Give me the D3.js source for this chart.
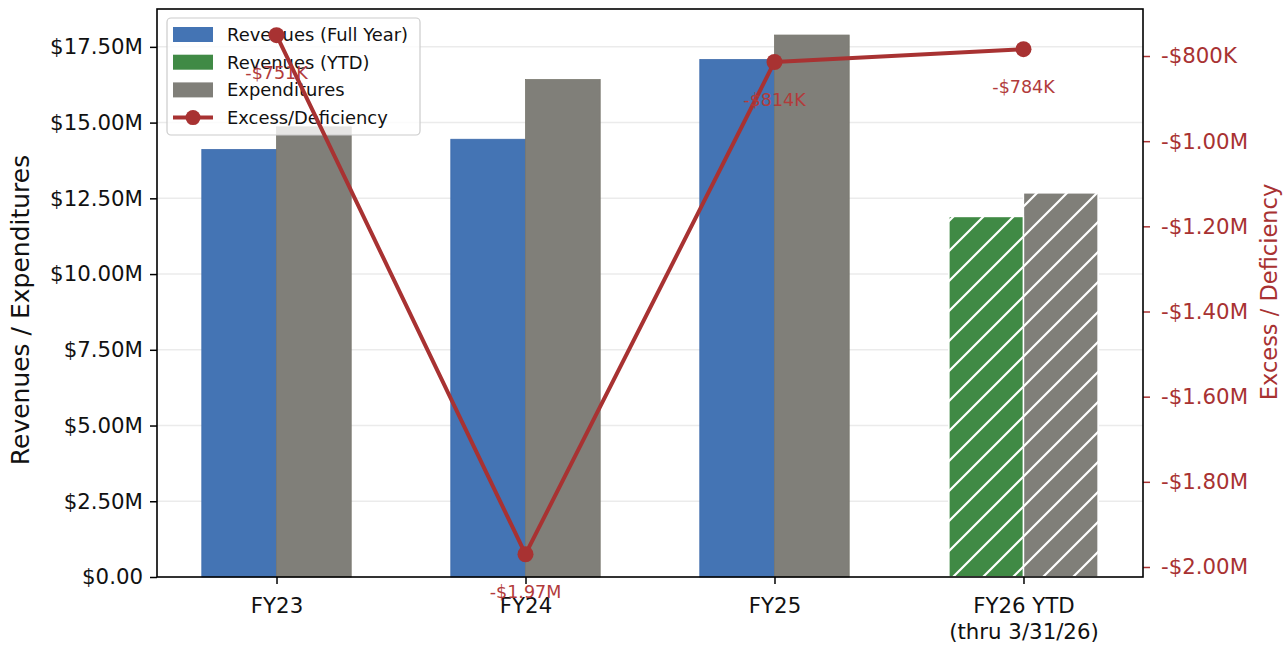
<!DOCTYPE html>
<html>
<head>
<meta charset="utf-8">
<script src="https://cdn.jsdelivr.net/npm/d3@7"></script>
<style>
  html, body { margin: 0; padding: 0; background: #ffffff; }
  svg { display: block; }
  text { font-family: "DejaVu Sans", sans-serif; }
</style>
</head>
<body>
<script>
// Fiscal-year summary: revenues vs expenditures (bars) with excess/deficiency (line)
const categories = ["FY23", "FY24", "FY25", "FY26 YTD\n(thru 3/31/26)"];
const ytdFlags = [false, false, false, true];
const revenues = [14.11, 14.45, 17.08, 11.90];        // $ millions
const expenditures = [14.86, 16.42, 17.89, 12.684];    // $ millions
const excess = [-751, -1970, -814, -784];              // $ thousands
const leftTicks = [0, 2.5, 5, 7.5, 10, 12.5, 15, 17.5];
const rightTicks = [-800, -1000, -1200, -1400, -1600, -1800, -2000];

const W = 1288, H = 647;
const plot = { left: 157, right: 1143, top: 9, bottom: 577 };

const colors = {
  revenue: "#4474b4",
  revenueEdge: "#3d6aab",
  ytd: "#408a45",
  expend: "#807f79",
  line: "#a83232",
  grid: "#ebebeb"
};

const svg = d3.select("body").append("svg").attr("width", W).attr("height", H);

// hatch used for the year-to-date bars
const defs = svg.append("defs");
const hatch = defs.append("pattern")
  .attr("id", "hatch").attr("patternUnits", "userSpaceOnUse")
  .attr("width", 30).attr("height", 30);
hatch.append("path")
  .attr("d", "M-7.5,7.5 L7.5,-7.5 M0,30 L30,0 M22.5,37.5 L37.5,22.5")
  .attr("stroke", "#ffffff").attr("stroke-width", 2.2);

// scales
const x = d3.scaleLinear().domain([-0.48, 3.48]).range([plot.left, plot.right]);
const barW = 0.3;
const y = d3.scaleLinear().domain([0, 18.75]).range([plot.bottom, plot.top]);
const y2 = d3.scaleLinear().domain([-2023.5, -689.6]).range([plot.bottom, plot.top]);

const fmtLeft = v => v === 0 ? "$0.00" : "$" + d3.format(".2f")(v) + "M";
const fmtK = v => {
  const a = Math.abs(v);
  const s = a >= 1000 ? "$" + d3.format(".2f")(a / 1000) + "M" : "$" + d3.format(".0f")(a) + "K";
  return (v < 0 ? "-" : "") + s;
};

// grid lines behind the bars
svg.append("g").selectAll("line").data(leftTicks.filter(t => t > 0)).join("line")
  .attr("x1", plot.left).attr("x2", plot.right)
  .attr("y1", d => y(d)).attr("y2", d => y(d))
  .attr("stroke", colors.grid).attr("stroke-width", 1.5);

// bars
const bars = svg.append("g");
categories.forEach((c, i) => {
  const revFill = ytdFlags[i] ? colors.ytd : colors.revenue;
  // revenue bar
  bars.append("rect")
    .attr("x", x(i - barW)).attr("width", x(barW) - x(0))
    .attr("y", y(revenues[i])).attr("height", y(0) - y(revenues[i]))
    .attr("fill", revFill)
    .attr("stroke", ytdFlags[i] ? "#ffffff" : colors.revenueEdge)
    .attr("stroke-width", ytdFlags[i] ? 1.2 : 0.8);
  // expenditure bar
  bars.append("rect")
    .attr("x", x(i)).attr("width", x(barW) - x(0))
    .attr("y", y(expenditures[i])).attr("height", y(0) - y(expenditures[i]))
    .attr("fill", colors.expend)
    .attr("stroke", ytdFlags[i] ? "#ffffff" : "#79786f")
    .attr("stroke-width", ytdFlags[i] ? 1.2 : 0.8);
  if (ytdFlags[i]) {
    [[i - barW, revenues[i]], [i, expenditures[i]]].forEach(([x0, v]) => {
      bars.append("rect")
        .attr("x", x(x0)).attr("width", x(barW) - x(0))
        .attr("y", y(v)).attr("height", y(0) - y(v))
        .attr("fill", "url(#hatch)")
        .attr("stroke", "#ffffff").attr("stroke-width", 1.2);
    });
  }
});

// left axis
const leftAxis = svg.append("g").attr("transform", `translate(${plot.left},0)`)
  .call(d3.axisLeft(y).tickValues(leftTicks).tickFormat(fmtLeft).tickSize(7).tickPadding(7));
leftAxis.select(".domain").remove();
leftAxis.selectAll(".tick line").attr("stroke", "#000").attr("stroke-width", 1.5);
leftAxis.selectAll(".tick text").attr("font-size", 21.3).attr("fill", "#111")
  .attr("font-family", "DejaVu Sans");

// bottom axis
const bottomAxis = svg.append("g").attr("transform", `translate(0,${plot.bottom})`)
  .call(d3.axisBottom(x).tickValues(d3.range(categories.length)).tickFormat("").tickSize(7));
bottomAxis.select(".domain").remove();
bottomAxis.selectAll(".tick line").attr("stroke", "#000").attr("stroke-width", 1.5);
bottomAxis.selectAll(".tick").each(function (d) {
  const lines = categories[d].split("\n");
  const t = d3.select(this).append("text")
    .attr("text-anchor", "middle").attr("font-size", 21.3).attr("fill", "#111")
    .attr("font-family", "DejaVu Sans").attr("y", 36);
  lines.forEach((ln, k) => {
    t.append("tspan").attr("x", 0).attr("dy", k === 0 ? 0 : "1.2em").text(ln);
  });
});

// right axis
const rightAxis = svg.append("g").attr("transform", `translate(${plot.right},0)`)
  .call(d3.axisRight(y2).tickValues(rightTicks).tickFormat(fmtK).tickSize(7).tickPadding(11));
rightAxis.select(".domain").remove();
rightAxis.selectAll(".tick line").attr("stroke", colors.line).attr("stroke-width", 1.5);
rightAxis.selectAll(".tick text").attr("font-size", 21.3).attr("fill", colors.line)
  .attr("font-family", "DejaVu Sans");

// axis titles
svg.append("text")
  .attr("transform", `translate(29,310) rotate(-90)`)
  .attr("text-anchor", "middle").attr("font-size", 25).attr("fill", "#111")
  .text("Revenues / Expenditures");
svg.append("text")
  .attr("transform", `translate(1277,292) rotate(-90)`)
  .attr("text-anchor", "middle").attr("font-size", 22.5).attr("fill", colors.line)
  .text("Excess / Deficiency");

// legend (beneath the line series)
const legend = svg.append("g");
legend.append("rect")
  .attr("x", 167).attr("y", 18).attr("width", 253).attr("height", 117)
  .attr("rx", 4).attr("fill", "#ffffff").attr("fill-opacity", 0.8)
  .attr("stroke", "#cccccc").attr("stroke-width", 1.2);
const legendItems = [
  { label: "Revenues (Full Year)", type: "patch", color: colors.revenue },
  { label: "Revenues (YTD)", type: "patch", color: colors.ytd },
  { label: "Expenditures", type: "patch", color: colors.expend },
  { label: "Excess/Deficiency", type: "line", color: colors.line }
];
legendItems.forEach((it, k) => {
  const cy = 34.5 + k * 27.7;
  if (it.type === "patch") {
    legend.append("rect").attr("x", 173).attr("y", cy - 7.5).attr("width", 40).attr("height", 15)
      .attr("fill", it.color);
  } else {
    legend.append("line").attr("x1", 173).attr("x2", 213).attr("y1", cy).attr("y2", cy)
      .attr("stroke", it.color).attr("stroke-width", 4);
    legend.append("circle").attr("cx", 193).attr("cy", cy).attr("r", 7.5).attr("fill", it.color);
  }
  legend.append("text").attr("x", 227).attr("y", cy + 6.5)
    .attr("font-size", 17.9).attr("fill", "#111").text(it.label);
});

// excess / deficiency line on the secondary axis
const lineGen = d3.line().x((d, i) => x(i)).y(d => y2(d));
svg.append("path").datum(excess)
  .attr("d", lineGen).attr("fill", "none")
  .attr("stroke", colors.line).attr("stroke-width", 4).attr("stroke-linejoin", "round");
svg.append("g").selectAll("circle").data(excess).join("circle")
  .attr("cx", (d, i) => x(i)).attr("cy", d => y2(d)).attr("r", 8)
  .attr("fill", colors.line);
svg.append("g").selectAll("text").data(excess).join("text")
  .attr("x", (d, i) => x(i)).attr("y", d => y2(d) + 44)
  .attr("text-anchor", "middle").attr("font-size", 17.5).attr("fill", "#b23b3b")
  .text(d => fmtK(d));

// frame
svg.append("rect")
  .attr("x", plot.left).attr("y", plot.top)
  .attr("width", plot.right - plot.left).attr("height", plot.bottom - plot.top)
  .attr("fill", "none").attr("stroke", "#000").attr("stroke-width", 1.6);
</script>
</body>
</html>
